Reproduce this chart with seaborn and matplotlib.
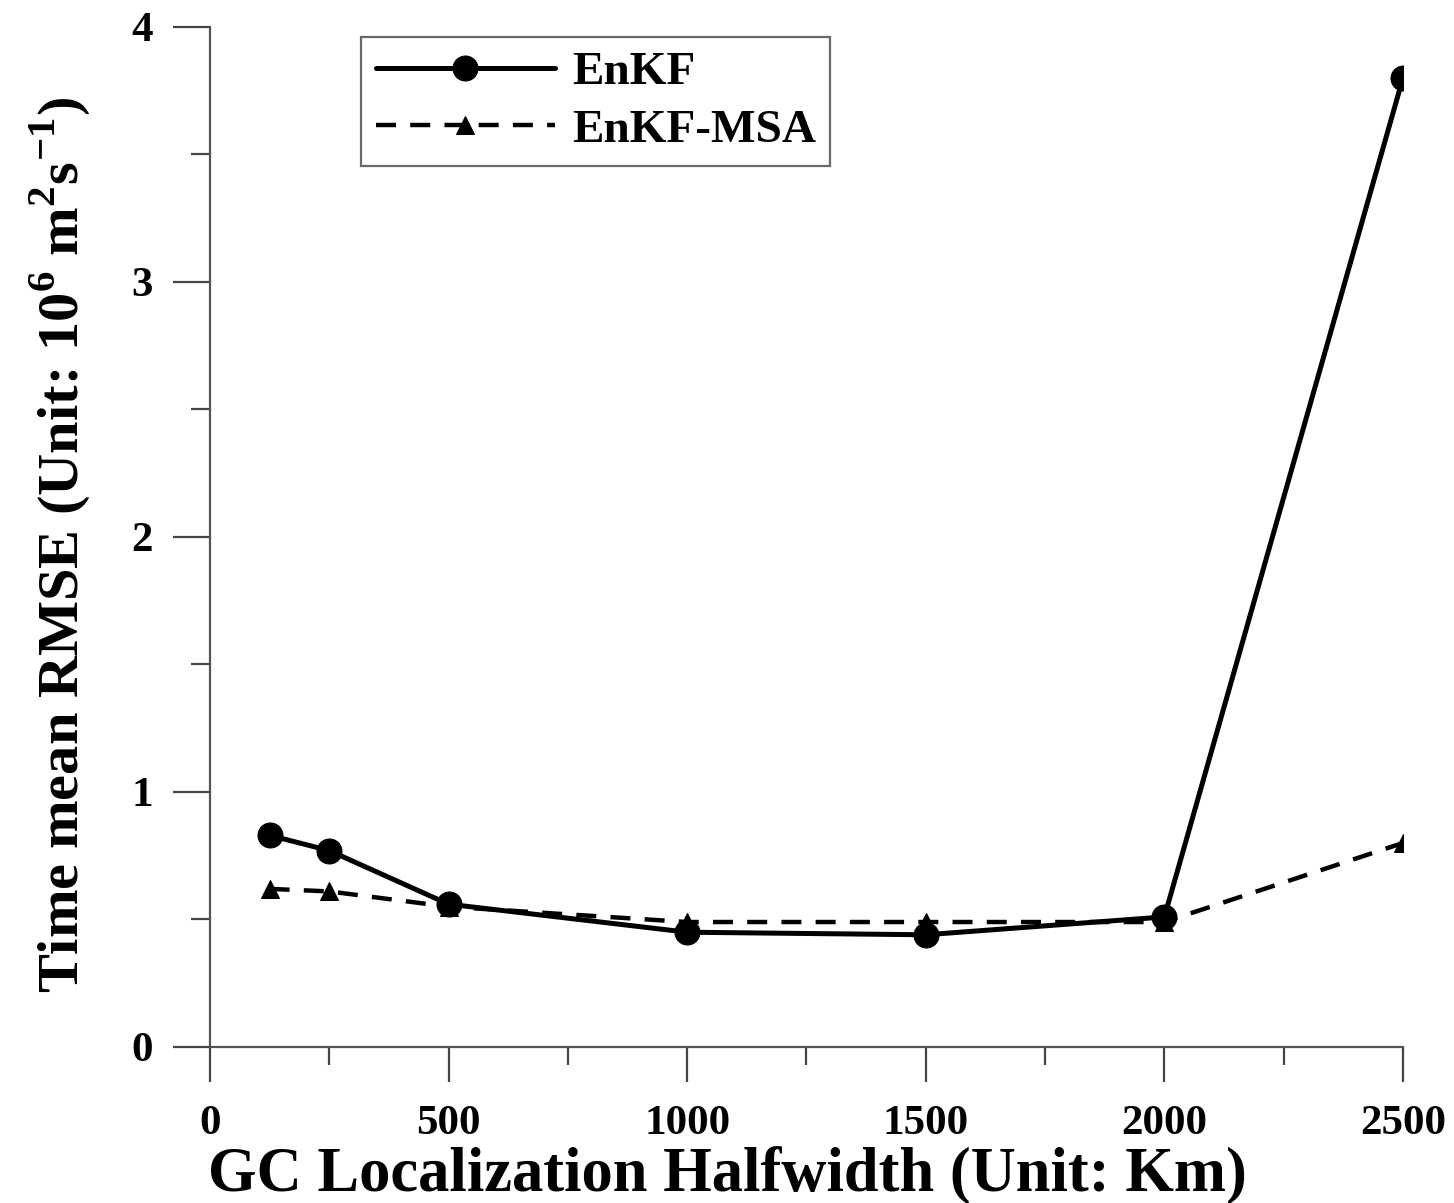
import matplotlib
matplotlib.use("Agg")
import matplotlib.pyplot as plt
from matplotlib.ticker import MultipleLocator
import seaborn as sns
import pandas as pd

# GC localization halfwidth (km) and time-mean RMSE (10^6 m^2 s^-1)
halfwidth = [125, 250, 500, 1000, 1500, 2000, 2500]
rmse_enkf = [0.83, 0.77, 0.56, 0.45, 0.44, 0.51, 3.80]
rmse_enkf_msa = [0.62, 0.61, 0.55, 0.49, 0.49, 0.49, 0.80]
series_names = ["EnKF", "EnKF-MSA"]

sns.set_theme(style="white")
plt.rcParams["font.family"] = ["Liberation Serif", "DejaVu Serif"]
plt.rcParams["font.weight"] = "bold"
plt.rcParams["text.color"] = "black"
plt.rcParams["axes.labelcolor"] = "black"
plt.rcParams["xtick.labelcolor"] = "black"
plt.rcParams["ytick.labelcolor"] = "black"
plt.rcParams["mathtext.fontset"] = "custom"
plt.rcParams["mathtext.rm"] = "Liberation Serif:bold"
plt.rcParams["mathtext.bf"] = "Liberation Serif:bold"

fig = plt.figure(figsize=(14.54, 12.03), dpi=100)
ax = fig.add_axes([0.1444, 0.1297, 0.8205, 0.8479])

df_a = pd.DataFrame({"x": halfwidth, "y": rmse_enkf})
df_b = pd.DataFrame({"x": halfwidth, "y": rmse_enkf_msa})

sns.lineplot(data=df_a, x="x", y="y", ax=ax, color="black", linewidth=3.6,
             marker="o", markersize=18, markeredgecolor="black",
             label=series_names[0])
sns.lineplot(data=df_b, x="x", y="y", ax=ax, color="black", linewidth=3.2,
             marker="^", markersize=13, markeredgecolor="black",
             label=series_names[1])
ax.lines[1].set_linestyle((0, (4.5, 3.2)))

ax.set_xlim(0, 2500)
ax.set_ylim(0, 4)
ax.xaxis.set_major_locator(MultipleLocator(500))
ax.xaxis.set_minor_locator(MultipleLocator(250))
ax.yaxis.set_major_locator(MultipleLocator(1))
ax.yaxis.set_minor_locator(MultipleLocator(0.5))

for side in ("top", "right"):
    ax.spines[side].set_visible(False)
for side in ("left", "bottom"):
    ax.spines[side].set_color("#555555")
    ax.spines[side].set_linewidth(1.6)

ax.tick_params(axis="both", which="both", direction="out", color="#444444",
               width=1.6, labelsize=31, labelcolor="black")
ax.tick_params(axis="y", which="major", length=27, pad=14, left=True)
ax.tick_params(axis="y", which="minor", length=14, left=True)
ax.tick_params(axis="x", which="major", length=25, pad=17, bottom=True)
ax.tick_params(axis="x", which="minor", length=13, bottom=True)
for lbl in ax.get_xticklabels() + ax.get_yticklabels():
    lbl.set_fontweight("bold")

ax.set_xlabel("GC Localization Halfwidth (Unit: Km)", fontsize=45,
              fontweight="bold")
ax.xaxis.set_label_coords(0.4334, -0.097)

ax.set_ylabel(r"Time mean RMSE (Unit: 10$^{6}$ m$^{2}$s$^{-1}$)", fontsize=42,
              fontweight="bold")
ax.yaxis.set_label_coords(-0.099, 0.492)

leg = ax.legend(loc="upper left", bbox_to_anchor=(0.127, 0.99),
                prop={"family": "Liberation Serif", "weight": "bold", "size": 34},
                frameon=True, fancybox=False, handlelength=3.8,
                handletextpad=0.36, borderpad=0.3, labelspacing=0.3,
                borderaxespad=0)
leg.get_frame().set_edgecolor("#444444")
leg.get_frame().set_linewidth(1.6)

fig.savefig("out.png", dpi=100, facecolor="white")
